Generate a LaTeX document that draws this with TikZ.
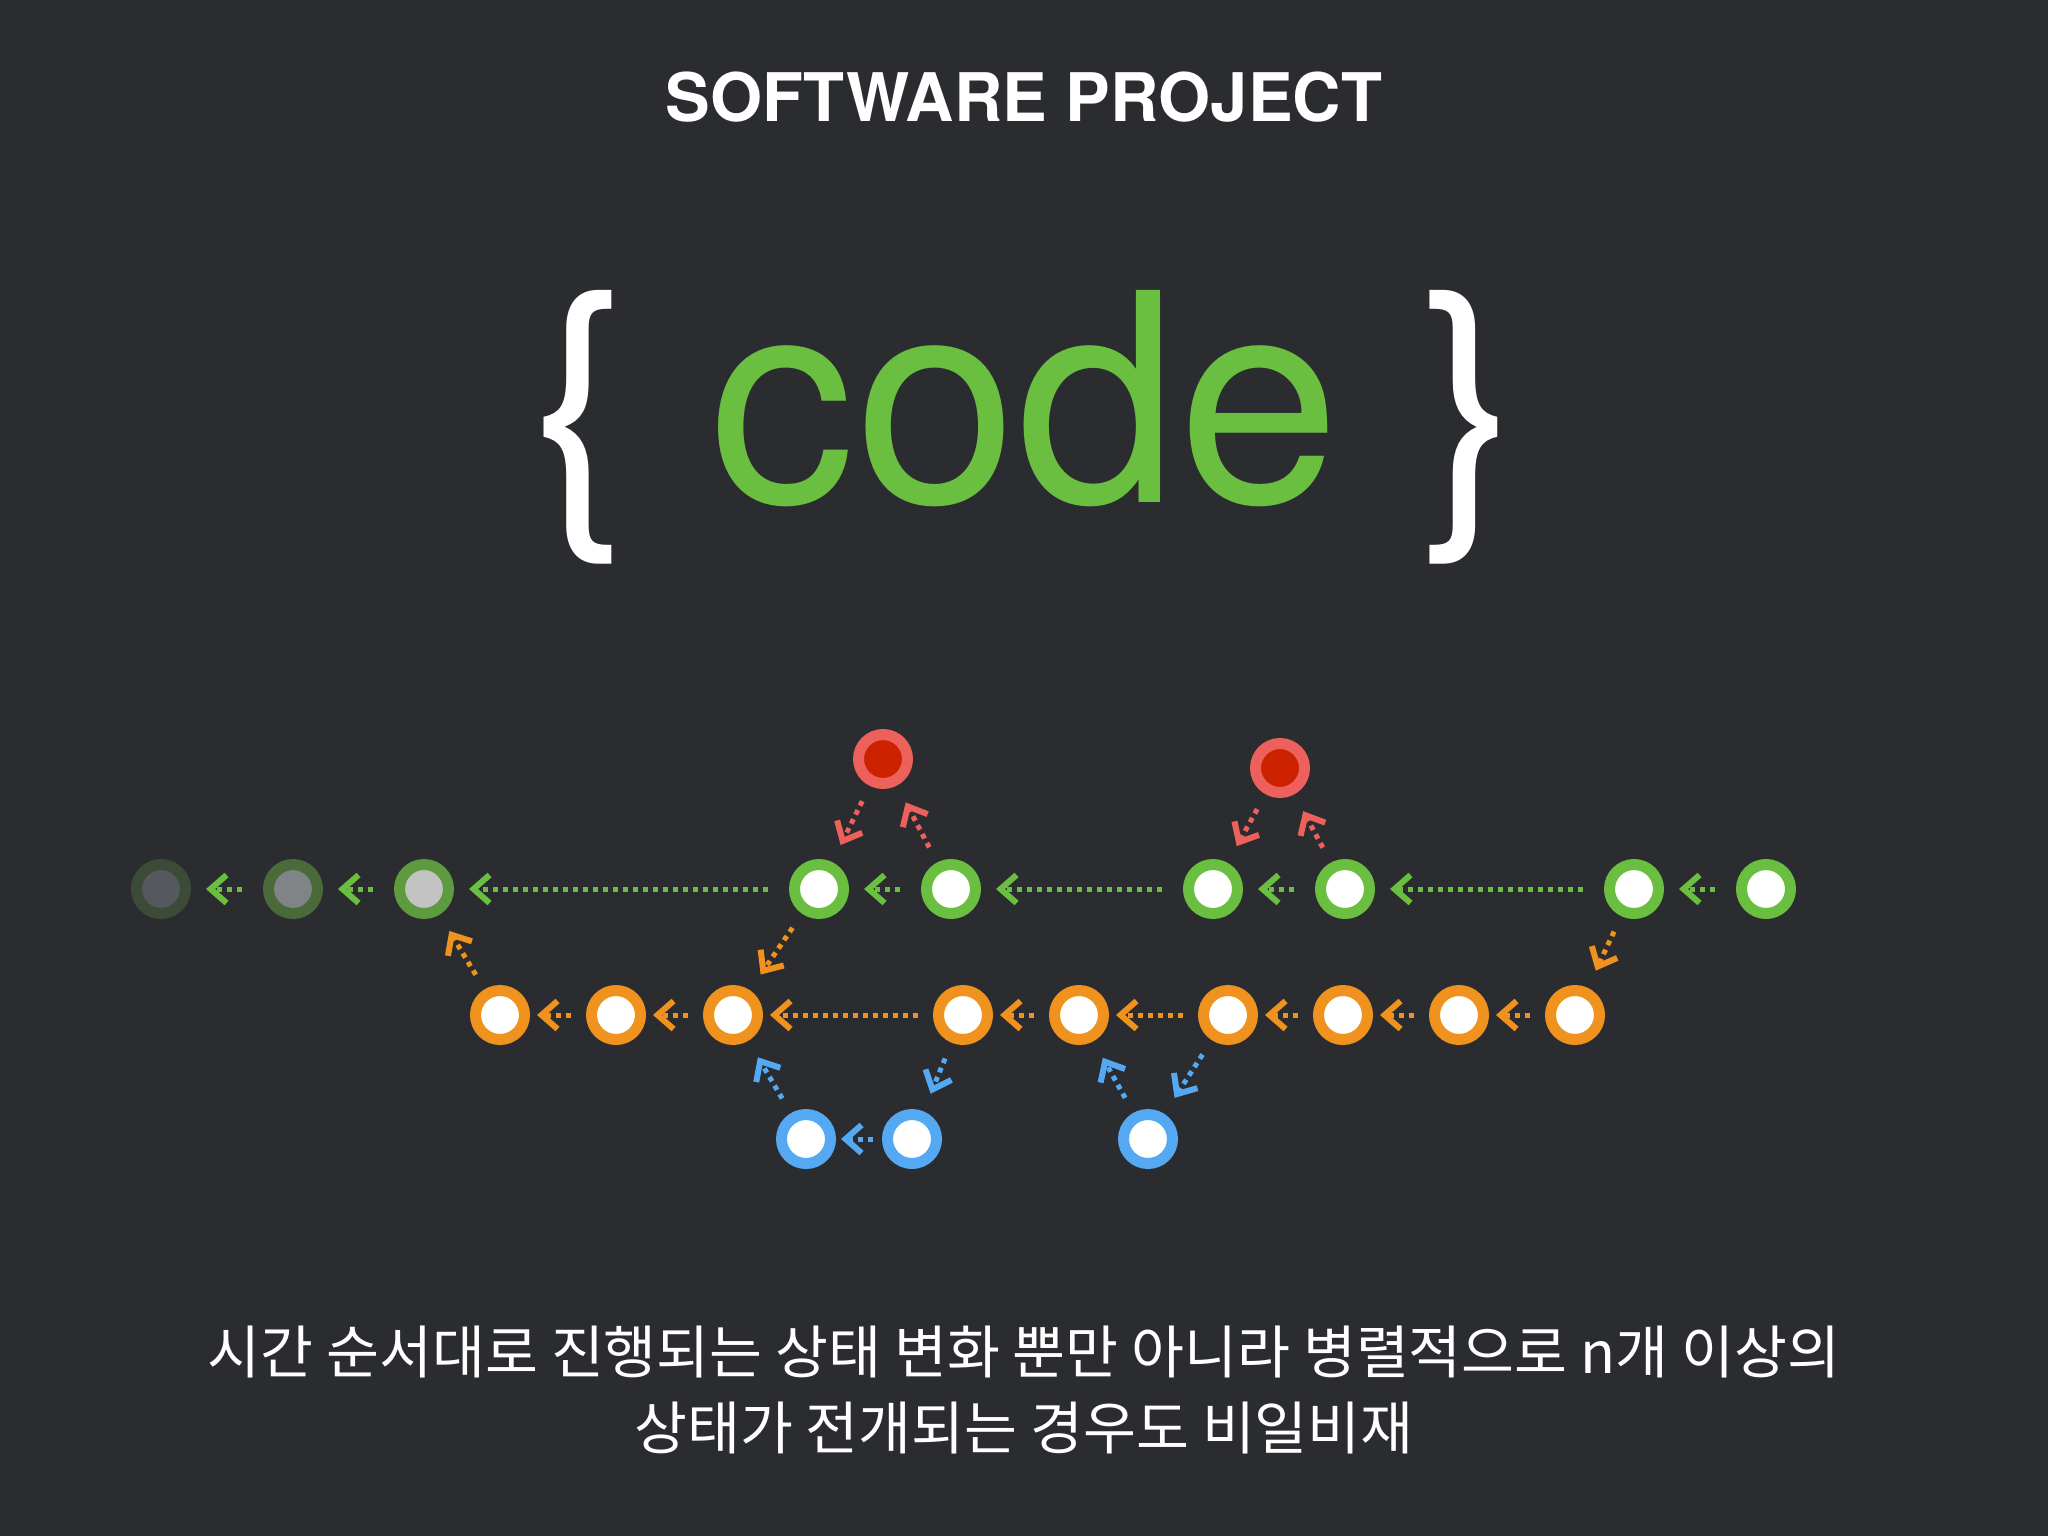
\documentclass[tikz,border=0pt]{standalone}
\usepackage{fontspec}
\setmainfont{TeX Gyre Heros}
\newfontfamily\kofont{Noto Sans CJK KR}
\usetikzlibrary{positioning,arrows.meta}

\definecolor{bg}{HTML}{2A2C30}
\definecolor{cgreen}{HTML}{6ABF40}
\definecolor{corange}{HTML}{F0921E}
\definecolor{cblue}{HTML}{55A8F2}
\definecolor{cred}{HTML}{EE605C}
\definecolor{cdred}{HTML}{CC2200}
\definecolor{fadeA}{HTML}{3C4B37}
\definecolor{fadeAin}{HTML}{55585D}
\definecolor{fadeB}{HTML}{4A6A3A}
\definecolor{fadeBin}{HTML}{818487}
\definecolor{fadeC}{HTML}{5E9A3E}
\definecolor{fadeCin}{HTML}{C2C2C2}

\tikzset{
  commit/.style={circle, minimum size=49pt, inner sep=0pt, line width=11pt, fill=white},
  gcommit/.style={commit, draw=cgreen},
  ocommit/.style={commit, draw=corange},
  bcommit/.style={commit, draw=cblue},
  rcommit/.style={commit, draw=cred, fill=cdred},
  link/.style={line width=5pt, dash pattern=on 5pt off 5pt,
    -{Straight Barb[length=16pt,width=28pt,line width=6pt]}},
  glink/.style={link, cgreen, shorten >=15pt, shorten <=21pt},
  olink/.style={link, corange, shorten >=7pt, shorten <=15pt},
  blink/.style={link, cblue, shorten >=5pt, shorten <=9pt},
  diag/.style={shorten >=19pt, shorten <=17pt}
}

\begin{document}
\begin{tikzpicture}[x=1pt, y=-1pt, on grid]
  \fill[bg] (0,0) rectangle (2048,1536);
  \useasboundingbox (0,0) rectangle (2048,1536);

  \node[text=white, font=\fontsize{67}{80}\selectfont\bfseries] (title) at (1024,97) {SOFTWARE PROJECT};
  \node[anchor=base, text=white, font=\fontsize{291}{300}\selectfont] (logo) at (1025,502)
    {\{ \textcolor{cgreen}{code} \}};

  \node[commit, draw=fadeA, fill=fadeAin] (g1) at (161,889) {};
  \node[commit, draw=fadeB, fill=fadeBin, right=132pt of g1] (g2) {};
  \node[commit, draw=fadeC, fill=fadeCin, right=131pt of g2] (g3) {};
  \node[gcommit, right=395pt of g3] (g4) {};
  \node[gcommit, right=132pt of g4] (g5) {};
  \node[gcommit, right=262pt of g5] (g6) {};
  \node[gcommit, right=132pt of g6] (g7) {};
  \node[gcommit, right=289pt of g7] (g8) {};
  \node[gcommit, right=132pt of g8] (g9) {};

  \node[rcommit] (r1) at (883,759) {};
  \node[rcommit] (r2) at (1280,768) {};

  \node[ocommit] (o1) at (500,1015) {};
  \node[ocommit, right=116pt of o1] (o2) {};
  \node[ocommit, right=117pt of o2] (o3) {};
  \node[ocommit, right=230pt of o3] (o4) {};
  \node[ocommit, right=116pt of o4] (o5) {};
  \node[ocommit, right=149pt of o5] (o6) {};
  \node[ocommit, right=115pt of o6] (o7) {};
  \node[ocommit, right=116pt of o7] (o8) {};
  \node[ocommit, right=116pt of o8] (o9) {};

  \node[bcommit] (b1) at (806,1139) {};
  \node[bcommit, right=106pt of b1] (b2) {};
  \node[bcommit, right=236pt of b2] (b3) {};

  \path[glink]
    (g2) edge (g1)
    (g3) edge (g2)
    (g4) edge (g3)
    (g5) edge (g4)
    (g6) edge (g5)
    (g7) edge (g6)
    (g8) edge (g7)
    (g9) edge (g8);
  \path[olink]
    (o2) edge (o1)
    (o3) edge (o2)
    (o4) edge (o3)
    (o5) edge (o4)
    (o6) edge (o5)
    (o7) edge (o6)
    (o8) edge (o7)
    (o9) edge (o8);
  \path[blink]
    (b2) edge (b1);

  \path[link, diag, corange]
    (o1) edge (g3)
    (g4) edge (o3)
    (g8) edge (o9);
  \path[link, diag, cred]
    (g5) edge (r1)
    (r1) edge (g4)
    (g7) edge (r2)
    (r2) edge (g6);
  \path[link, diag, cblue]
    (b1) edge (o3)
    (o4) edge (b2)
    (b3) edge (o5)
    (o6) edge (b3);

  \node[align=center, text=white, font=\kofont\fontsize{57.5}{76}\selectfont] (caption) at (1024,1390)
    {시간 순서대로 진행되는 상태 변화 뿐만 아니라 병렬적으로 n개 이상의\\상태가 전개되는 경우도 비일비재};
\end{tikzpicture}
\end{document}
